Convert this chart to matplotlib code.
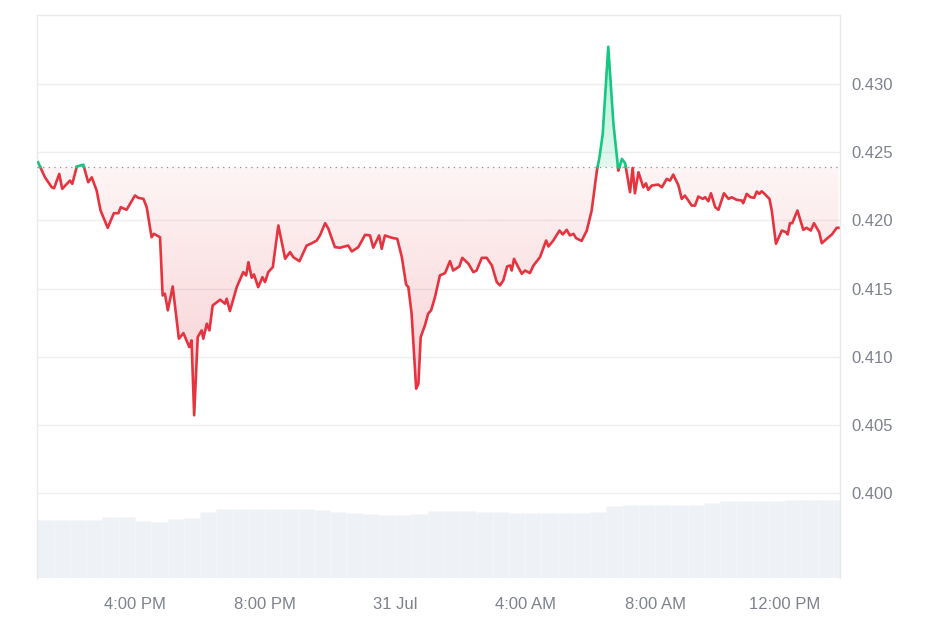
import numpy as np
import matplotlib.pyplot as plt
from matplotlib.path import Path

plt.rcParams['font.family'] = ['Liberation Sans', 'DejaVu Sans']

### Data -----------------------------------------------------------------------------------------------------
# time in hours counted from 30 Jul 00:00 (24 = 31 Jul 00:00)
hours = [13.02, 13.23, 13.44, 13.51, 13.67, 13.76, 14.00, 14.07, 14.21, 14.41, 14.56, 14.67, 14.82, 14.94,
         15.16, 15.35, 15.49, 15.56, 15.74, 16.00, 16.10, 16.26, 16.36, 16.51, 16.58, 16.77, 16.85, 16.92,
         17.01, 17.16, 17.35, 17.49, 17.67, 17.74, 17.82, 17.93, 18.05, 18.10, 18.21, 18.29, 18.39, 18.62,
         18.77, 18.82, 18.92, 19.13, 19.33, 19.42, 19.49, 19.59, 19.66, 19.79, 19.92, 20.00, 20.10, 20.24,
         20.41, 20.62, 20.77, 20.87, 21.06, 21.28, 21.44, 21.59, 21.69, 21.85, 21.95, 22.15, 22.31, 22.56,
         22.67, 22.87, 23.08, 23.23, 23.33, 23.51, 23.59, 23.69, 23.90, 24.07, 24.21, 24.34, 24.41, 24.51,
         24.65, 24.72, 24.79, 24.92, 25.02, 25.11, 25.23, 25.38, 25.54, 25.69, 25.79, 25.98, 26.07, 26.26,
         26.41, 26.51, 26.67, 26.82, 26.98, 27.13, 27.23, 27.33, 27.45, 27.54, 27.59, 27.66, 27.79, 27.90,
         28.00, 28.15, 28.26, 28.46, 28.65, 28.72, 28.87, 29.06, 29.16, 29.28, 29.38, 29.49, 29.57, 29.74,
         29.90, 30.05, 30.21, 30.29, 30.39, 30.56, 30.72, 30.87, 30.98, 31.08, 31.23, 31.31, 31.38, 31.49,
         31.64, 31.72, 31.79, 31.90, 32.10, 32.21, 32.36, 32.46, 32.56, 32.72, 32.82, 32.92, 33.13, 33.23,
         33.33, 33.47, 33.54, 33.64, 33.72, 33.85, 33.95, 34.12, 34.26, 34.36, 34.51, 34.67, 34.71, 34.82,
         34.94, 35.05, 35.13, 35.21, 35.28, 35.35, 35.52, 35.59, 35.72, 35.90, 36.03, 36.08, 36.15, 36.22,
         36.38, 36.56, 36.66, 36.79, 36.89, 37.05, 37.13, 37.28, 37.44, 37.59, 37.64]
price = [0.42425, 0.42315, 0.42242, 0.42235, 0.42340, 0.42231, 0.42291, 0.42267, 0.42394, 0.42408, 0.42279,
         0.42315, 0.42218, 0.42072, 0.41945, 0.42052, 0.42052, 0.42096, 0.42077, 0.42182, 0.42165, 0.42157,
         0.42096, 0.41876, 0.41901, 0.41876, 0.41449, 0.41462, 0.41340, 0.41515, 0.41132, 0.41173, 0.41071,
         0.41120, 0.40571, 0.41144, 0.41193, 0.41132, 0.41242, 0.41193, 0.41376, 0.41418, 0.41389, 0.41425,
         0.41335, 0.41510, 0.41620, 0.41596, 0.41693, 0.41579, 0.41603, 0.41510, 0.41583, 0.41547, 0.41620,
         0.41657, 0.41962, 0.41718, 0.41767, 0.41730, 0.41700, 0.41815, 0.41832, 0.41852, 0.41889, 0.41979,
         0.41938, 0.41803, 0.41799, 0.41815, 0.41772, 0.41803, 0.41894, 0.41889, 0.41799, 0.41889, 0.41791,
         0.41889, 0.41872, 0.41864, 0.41730, 0.41530, 0.41510, 0.41316, 0.40766, 0.40803, 0.41144, 0.41230,
         0.41316, 0.41340, 0.41437, 0.41596, 0.41613, 0.41701, 0.41632, 0.41662, 0.41725, 0.41681, 0.41620,
         0.41632, 0.41725, 0.41725, 0.41669, 0.41547, 0.41523, 0.41559, 0.41662, 0.41669, 0.41632, 0.41718,
         0.41657, 0.41608, 0.41632, 0.41613, 0.41669, 0.41730, 0.41852, 0.41808, 0.41852, 0.41925, 0.41896,
         0.41930, 0.41889, 0.41901, 0.41869, 0.41849, 0.41925, 0.42072, 0.42364, 0.42462, 0.42633, 0.43272,
         0.42706, 0.42364, 0.42450, 0.42418, 0.42206, 0.42384, 0.42198, 0.42352, 0.42242, 0.42271, 0.42223,
         0.42255, 0.42262, 0.42242, 0.42304, 0.42291, 0.42335, 0.42255, 0.42157, 0.42181, 0.42108, 0.42108,
         0.42174, 0.42157, 0.42169, 0.42140, 0.42198, 0.42096, 0.42077, 0.42198, 0.42157, 0.42169, 0.42150,
         0.42145, 0.42125, 0.42194, 0.42169, 0.42165, 0.42211, 0.42194, 0.42213, 0.42198, 0.42157, 0.42072,
         0.41828, 0.41925, 0.41913, 0.41896, 0.41979, 0.41979, 0.42072, 0.41930, 0.41945, 0.41925, 0.41979,
         0.41913, 0.41832, 0.41864, 0.41896, 0.41945, 0.41945]
baseline = 0.4239  # opening price (dotted line)

# volume bars, one every half hour from 13:00
vol_hours = [13.0 + 0.5 * i for i in range(50)]
volume = [5.8, 5.8, 5.8, 5.8, 6.1, 6.1, 5.7, 5.6, 5.9, 6.0, 6.6, 6.9, 6.9, 6.9, 6.9, 6.9, 6.9, 6.8, 6.6, 6.5,
          6.4, 6.3, 6.3, 6.4, 6.7, 6.7, 6.7, 6.6, 6.6, 6.5, 6.5, 6.5, 6.5, 6.5, 6.6, 7.2, 7.3, 7.3, 7.3, 7.3,
          7.3, 7.5, 7.7, 7.7, 7.7, 7.7, 7.8, 7.8, 7.8, 7.8]

tick_hours = [16, 20, 24, 28, 32, 36]
tick_labels = ['4:00 PM', '8:00 PM', '31 Jul', '4:00 AM', '8:00 AM', '12:00 PM']
price_ticks = [0.400, 0.405, 0.410, 0.415, 0.420, 0.425, 0.430]
### ----------------------------------------------------------------------------------------------------------

red = '#e5343f'
green = '#16c784'
text_grey = '#7d828c'

fig = plt.figure(figsize=(9.42, 6.28), dpi=100)
ax = fig.add_axes([37 / 942, 1 - 578 / 628, 803 / 942, 563 / 628])
ax_vol = ax.twinx()

# price axis on top of the volume axis
ax.set_zorder(2)
ax.patch.set_visible(False)
ax_vol.set_zorder(1)

### Volume bars ----------------------------------------------------------------------------------------------
ax_vol.bar(vol_hours, volume, width=0.5, align='edge', color='#eef1f5', edgecolor='#f6f7f9', linewidth=0.4)
ax_vol.set_ylim(0, 56.3)
ax_vol.set_yticks([])
for s in ax_vol.spines.values():
    s.set_visible(False)

### Split the line where it crosses the baseline -------------------------------------------------------------
t = np.array(hours)
p = np.array(price)
tt = [t[0]]
pp = [p[0]]
for i in range(1, len(t)):
    a = p[i - 1] - baseline
    b = p[i] - baseline
    if a * b < 0:
        f = a / (a - b)
        tt.append(t[i - 1] + f * (t[i] - t[i - 1]))
        pp.append(baseline)
    tt.append(t[i])
    pp.append(p[i])
tt = np.array(tt)
pp = np.array(pp)


def gradient_fill(mask, color, a_near, a_far, y_far):
    # invisible fill gives the clip shape, an alpha gradient image is drawn inside it
    coll = ax.fill_between(tt, pp, baseline, where=mask, facecolor='none', edgecolor='none')
    clip = Path.make_compound_path(*coll.get_paths())
    rgb = plt.matplotlib.colors.to_rgb(color)
    n = 200
    img = np.zeros((n, 1, 4))
    img[:, 0, :3] = rgb
    img[:, 0, 3] = np.linspace(a_far, a_near, n)  # row 0 is at y_far
    lo, hi = min(y_far, baseline), max(y_far, baseline)
    if y_far > baseline:
        img = img[::-1]
    im = ax.imshow(img, extent=[tt.min(), tt.max(), lo, hi],
                   origin='lower', aspect='auto', zorder=1, interpolation='bilinear')
    im.set_clip_path(clip, transform=ax.transData)


gradient_fill(pp <= baseline, red, 0.05, 0.24, pp.min())
gradient_fill(pp >= baseline, green, 0.12, 0.35, pp.max())

below = np.where(pp <= baseline, pp, np.nan)
above = np.where(pp >= baseline, pp, np.nan)
ax.plot(tt, below, color=red, lw=1.9, zorder=4, solid_joinstyle='round')
ax.plot(tt, above, color=green, lw=1.9, zorder=4, solid_joinstyle='round')

ax.axhline(baseline, color='#8a8f98', lw=0.9, ls=(0, (1, 3.5)), zorder=3)

### Axes styling ---------------------------------------------------------------------------------------------
ax.set_xlim(12.985, 37.69)
ax.set_ylim(0.39378, 0.43505)
ax.yaxis.tick_right()
ax.set_yticks(price_ticks)
ax.set_yticklabels([f'{v:.3f}' for v in price_ticks])
ax.set_xticks(tick_hours)
ax.set_xticklabels(tick_labels)
ax.tick_params(axis='both', length=0, labelsize=12, colors=text_grey)
ax.tick_params(axis='y', pad=8)
ax.tick_params(axis='x', pad=14)
ax.grid(axis='y', color='#eceef1', lw=1)
ax.set_axisbelow(True)
for s in ax.spines.values():
    s.set_color('#e8eaee')
    s.set_linewidth(1)
ax.spines['bottom'].set_visible(False)

fig.savefig('out.png', dpi=100)
